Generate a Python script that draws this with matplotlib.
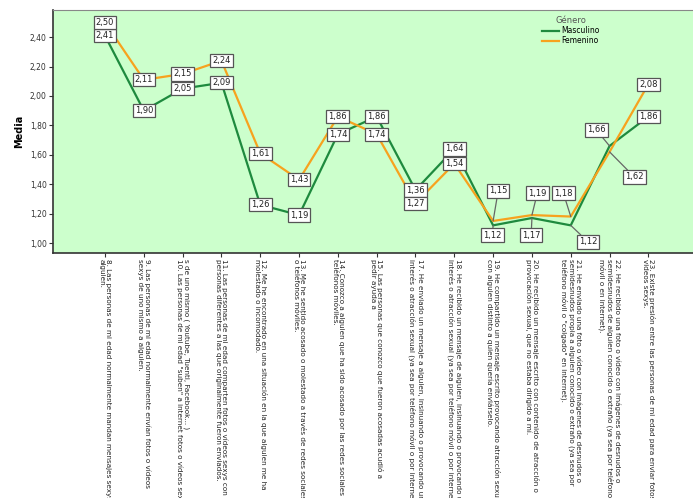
import matplotlib
matplotlib.use("Agg")
import matplotlib.pyplot as plt

categories = [
    "8. Las personas de mi edad normalmente mandan mensajes sexys a\nalguien.",
    "9. Las personas de mi edad normalmente envían fotos o vídeos\nsexys de uno mismo a alguien.",
    "s de uno mismo ( Youtube, Tuenti, Facebook... )\n10. Las personas de mi edad \"suben\" a internet fotos o vídeos sexy",
    "11. Las personas de mi edad comparten fotos o vídeos sexys con\npersonas diferentes a las que originalmente fueron enviados.",
    "12. Me he encontrado en una situación en la que alguien me ha\nmolestado o incomodado.",
    "13. Me he sentido acosado o molestado a través de redes sociales\no teléfonos móviles.",
    "14. Conozco a alguien que ha sido acosado por las redes sociales o\nteléfonos móviles.",
    "15. Las personas que conozco que fueron acosadas acudió a\npedir ayuda a",
    "17. He enviado un mensaje a alguien, insinuando o provocando un\ninterés o atracción sexual (ya sea por teléfono móvil o por internet).",
    "18. He recibido un mensaje de alguien, insinuando o provocando un\ninterés o atracción sexual (ya sea por teléfono móvil o por internet).",
    "19. He compartido un mensaje escrito provocando atracción sexual,\ncon alguien distinto a quien quería enviárselo.",
    "20. He recibido un mensaje escrito con contenido de atracción o\nprovocación sexual, que no estaba dirigido a mí.",
    "21. He enviado una foto o vídeo con imágenes de desnudos o\nsemidesnudos propia a alguien conocido o extraño (ya sea por\nteléfono móvil o \"colgado\" en internet).",
    "22. He recibido una foto o vídeo con imágenes de desnudos o\nsemidesnudos de alguien conocido o extraño (ya sea por teléfono\nmóvil o en internet).",
    "23. Existe presión entre las personas de mi edad para enviar fotos o\nvideos sexys.",
]

masculino = [2.41, 1.90, 2.05, 2.09, 1.26, 1.19, 1.74, 1.86, 1.36, 1.64, 1.12, 1.17, 1.12, 1.66, 1.86]
femenino = [2.50, 2.11, 2.15, 2.24, 1.61, 1.43, 1.86, 1.74, 1.27, 1.54, 1.15, 1.19, 1.18, 1.62, 2.08]

y_ticks = [1.00, 1.20, 1.40, 1.60, 1.80, 2.00, 2.20, 2.40]

# label offsets (dx in categories, dy in value units) for displaced labels
masc_off = {10: (-0.02, -0.066), 11: (-0.02, -0.116), 12: (0.45, -0.113), 13: (-0.34, 0.109)}
fem_off = {10: (0.13, 0.204), 11: (0.14, 0.15), 12: (-0.19, 0.16), 13: (0.64, -0.171)}

GREEN = "#1e8a3e"
ORANGE = "#f7a21e"

def fmt(v):
    return f"{v:.2f}".replace(".", ",")

fig = plt.figure(figsize=(6.93, 4.98), dpi=100)
ax = fig.add_axes([53/693, 1-253/498, 1-53/693, 243/498])
ax.set_facecolor("#ccffcc")

x = list(range(len(categories)))
ax.plot(x, masculino, color=GREEN, lw=1.6, label="Masculino", zorder=3)
ax.plot(x, femenino, color=ORANGE, lw=1.6, label="Femenino", zorder=4)

bbox = dict(boxstyle="square,pad=0.25", fc="white", ec="#555555", lw=0.9)
for series, offs in ((masculino, masc_off), (femenino, fem_off)):
    for i, v in enumerate(series):
        dx, dy = offs.get(i, (0, 0))
        if (dx, dy) == (0, 0):
            ax.text(i, v, fmt(v), ha="center", va="center", fontsize=6,
                    bbox=bbox, zorder=6, color="#222222")
        else:
            ax.annotate(fmt(v), xy=(i, v), xytext=(i + dx, v + dy),
                        ha="center", va="center", fontsize=6, color="#222222",
                        bbox=bbox, zorder=6,
                        arrowprops=dict(arrowstyle="-", color="#666666", lw=0.9,
                                        shrinkA=0, shrinkB=0))

ax.set_xlim(-1.34, 15.15)
ax.set_ylim(0.932, 2.585)
ax.set_yticks(y_ticks)
ax.set_yticklabels([fmt(t) for t in y_ticks], fontsize=5.5, color="#333333")
ax.set_xticks(x)
ax.set_xticklabels(categories, rotation=270, fontsize=5.2, ha="center", va="top",
                   multialignment="left", color="#222222", linespacing=1.1)
ax.tick_params(axis="both", length=3, width=0.8, color="#333333", pad=1.5)
ax.tick_params(axis="x", pad=1.5)
ax.set_ylabel("Media", fontsize=7, fontweight="bold", labelpad=4)

for s in ("left", "bottom"):
    ax.spines[s].set_color("#333333")
    ax.spines[s].set_linewidth(1.2)
ax.spines["top"].set_color("#888888")
ax.spines["top"].set_linewidth(0.8)
ax.spines["right"].set_visible(False)

leg = ax.legend(loc="upper left", bbox_to_anchor=(0.755, 1.0), frameon=False,
                title="Género", fontsize=5.5, title_fontsize=6,
                handlelength=2.2, handletextpad=0.3, labelspacing=0.15,
                borderpad=0.3)
leg.get_title().set_color("#555555")

fig.savefig("out.png", dpi=100)
